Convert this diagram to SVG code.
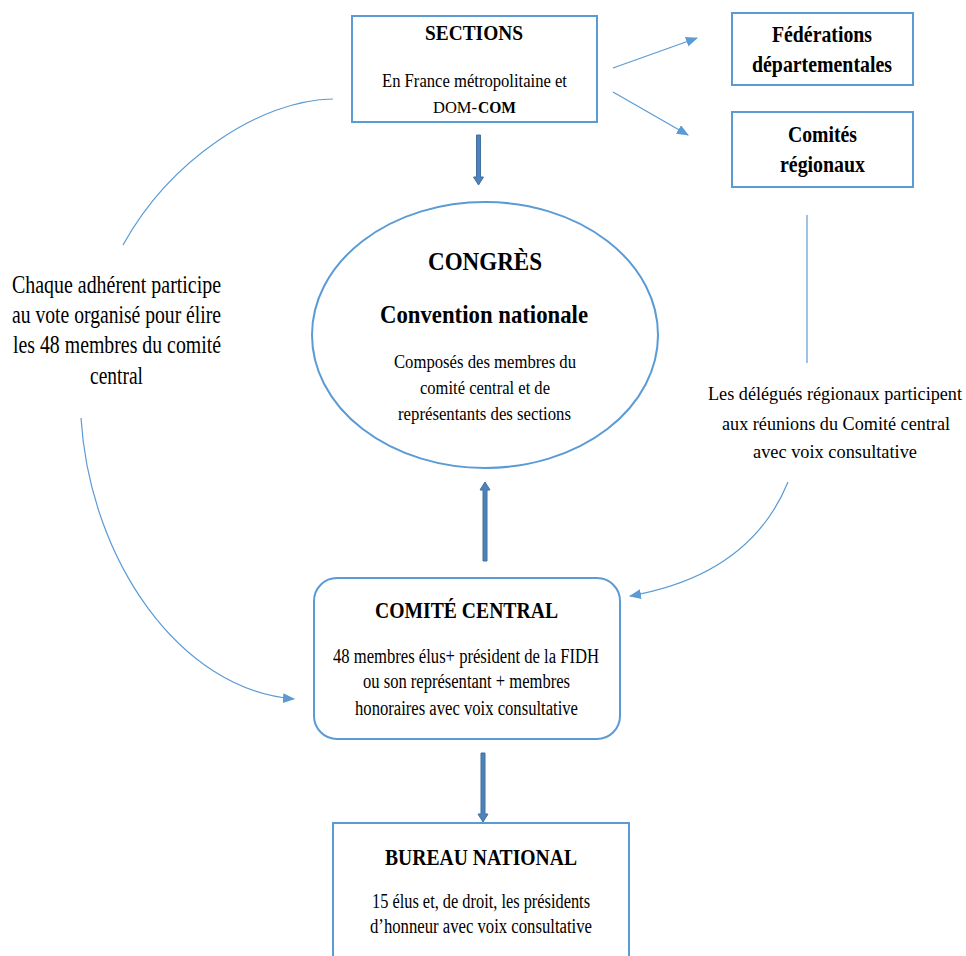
<svg xmlns="http://www.w3.org/2000/svg" width="966" height="956" viewBox="0 0 966 956">
<style>
.box{fill:#fff;stroke:#5b9bd5;stroke-width:2}
.t{font-family:"Liberation Serif","Times New Roman",serif;fill:#000}
.b{font-weight:bold}
.thin{fill:none;stroke:#5b9bd5;stroke-width:1.2}
.thick{fill:#4f81bd;stroke:#41719c;stroke-width:1}
</style>
<defs>
<marker id="ah" viewBox="0 0 12 10" refX="11" refY="5" markerWidth="12" markerHeight="10" markerUnits="userSpaceOnUse" orient="auto">
<path d="M0,0 L12,5 L0,10 z" fill="#5b9bd5"/>
</marker>
</defs>
<rect width="966" height="956" fill="#fff"/>
<g id="connectors">
<line class="thin" x1="613" y1="68" x2="697" y2="38" marker-end="url(#ah)"/>
<line class="thin" x1="613" y1="92" x2="688" y2="135" marker-end="url(#ah)"/>
<path class="thin" d="M333,99 C260,100 170,160 123,245"/>
<path class="thin" d="M81,418 C90,560 180,690 294,699" marker-end="url(#ah)"/>
<line class="thin" x1="807" y1="215" x2="807" y2="363"/>
<path class="thin" d="M788,482 Q750,575 630,596" marker-end="url(#ah)"/>
<path class="thick" d="M476.5,135 h4 v42 h3 l-5,8 l-5,-8 h3 z"/>
<path class="thick" d="M483,561 h4 v-71 h3 l-5,-8 l-5,8 h3 z"/>
<path class="thick" d="M481,753 h4 v61 h3 l-5,8 l-5,-8 h3 z"/>
</g>
<g id="sections">
<rect class="box" x="352" y="16" width="245" height="106"/>
<text class="t b" x="425" y="40" font-size="20" textLength="98" lengthAdjust="spacingAndGlyphs">SECTIONS</text>
<text class="t" x="382" y="87" font-size="18" textLength="185" lengthAdjust="spacingAndGlyphs">En France métropolitaine et</text>
<text class="t" x="433" y="113" font-size="16.5" textLength="44" lengthAdjust="spacingAndGlyphs">DOM-</text>
<text class="t b" x="478" y="113" font-size="16.5" textLength="38" lengthAdjust="spacingAndGlyphs">COM</text>
</g>
<g id="federations">
<rect class="box" x="732" y="13" width="181" height="72"/>
<text class="t b" x="772" y="42" font-size="23" textLength="100" lengthAdjust="spacingAndGlyphs">Fédérations</text>
<text class="t b" x="752" y="72" font-size="23" textLength="140" lengthAdjust="spacingAndGlyphs">départementales</text>
</g>
<g id="comites-regionaux">
<rect class="box" x="732" y="112" width="181" height="75"/>
<text class="t b" x="788" y="142" font-size="23" textLength="69" lengthAdjust="spacingAndGlyphs">Comités</text>
<text class="t b" x="780" y="172" font-size="23" textLength="85" lengthAdjust="spacingAndGlyphs">régionaux</text>
</g>
<g id="congres">
<ellipse class="box" cx="485" cy="335" rx="173" ry="133"/>
<text class="t b" x="428" y="270" font-size="25" textLength="114" lengthAdjust="spacingAndGlyphs">CONGRÈS</text>
<text class="t b" x="380" y="323" font-size="25" textLength="208" lengthAdjust="spacingAndGlyphs">Convention nationale</text>
<text class="t" x="394" y="368" font-size="18" textLength="182" lengthAdjust="spacingAndGlyphs">Composés des membres du</text>
<text class="t" x="420" y="394" font-size="18" textLength="130" lengthAdjust="spacingAndGlyphs">comité central et de</text>
<text class="t" x="398" y="420" font-size="18" textLength="173" lengthAdjust="spacingAndGlyphs">représentants des sections</text>
</g>
<g id="label-adherent">
<text class="t" x="12" y="293" font-size="26" textLength="209" lengthAdjust="spacingAndGlyphs">Chaque adhérent participe</text>
<text class="t" x="12" y="323" font-size="26" textLength="209" lengthAdjust="spacingAndGlyphs">au vote organisé pour élire</text>
<text class="t" x="13" y="353" font-size="26" textLength="208" lengthAdjust="spacingAndGlyphs">les 48 membres du comité</text>
<text class="t" x="90" y="384" font-size="26" textLength="53" lengthAdjust="spacingAndGlyphs">central</text>
</g>
<g id="label-delegues">
<text class="t" x="708" y="400" font-size="18" textLength="254" lengthAdjust="spacingAndGlyphs">Les délégués régionaux participent</text>
<text class="t" x="722" y="430" font-size="18" textLength="228" lengthAdjust="spacingAndGlyphs">aux réunions du Comité central</text>
<text class="t" x="753" y="458" font-size="18" textLength="164" lengthAdjust="spacingAndGlyphs">avec voix consultative</text>
</g>
<g id="comite-central">
<rect class="box" x="314" y="578" width="306" height="161" rx="23" ry="23"/>
<text class="t b" x="375" y="618" font-size="23" textLength="183" lengthAdjust="spacingAndGlyphs">COMITÉ CENTRAL</text>
<text class="t" x="333" y="663" font-size="20" textLength="266" lengthAdjust="spacingAndGlyphs">48 membres élus+ président de la FIDH</text>
<text class="t" x="363" y="688" font-size="20" textLength="207" lengthAdjust="spacingAndGlyphs">ou son représentant + membres</text>
<text class="t" x="355" y="715" font-size="20" textLength="223" lengthAdjust="spacingAndGlyphs">honoraires avec voix consultative</text>
</g>
<g id="bureau-national">
<rect class="box" x="333" y="823" width="296" height="150"/>
<text class="t b" x="385" y="865" font-size="23" textLength="192" lengthAdjust="spacingAndGlyphs">BUREAU NATIONAL</text>
<text class="t" x="372" y="908" font-size="20" textLength="218" lengthAdjust="spacingAndGlyphs">15 élus et, de droit, les présidents</text>
<text class="t" x="370" y="933" font-size="20" textLength="222" lengthAdjust="spacingAndGlyphs">d’honneur avec voix consultative</text>
</g>
</svg>
